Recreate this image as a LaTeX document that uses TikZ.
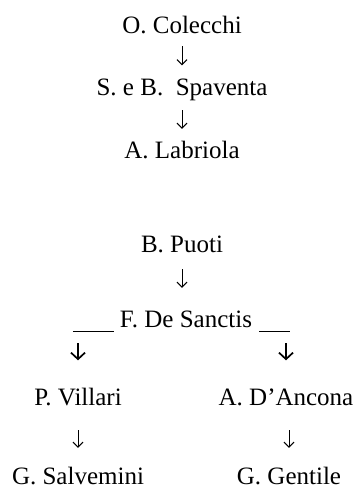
\documentclass[tikz,border=0pt]{standalone}
\usepackage{fontspec}
\setmainfont{Liberation Serif}
\usetikzlibrary{arrows.meta}
\begin{document}
\begin{tikzpicture}[x=1pt,y=-1pt,
  person/.style={anchor=base,inner sep=0pt,text height=16.5pt,text depth=0pt,font=\fontsize{25}{30}\selectfont},
  thinarr/.style={line width=1pt,-{Straight Barb[length=5pt,width=10pt,line width=1pt]}},
  thickarr/.style={line width=1.7pt,-{Straight Barb[length=6.5pt,width=14pt,line width=1.7pt]}},
  branch/.style={line width=0.9pt}]
\useasboundingbox (0,0) rectangle (358,488);
\node[person] (col) at (182,33) {O. Colecchi};
\node[person] (spa) at (182,95) {S. e B.\ \ Spaventa};
\node[person] (lab) at (182,158) {A. Labriola};
\node[person] (puo) at (182,252) {B. Puoti};
\node[person] (des) at (186,327) {F. De Sanctis};
\node[person] (vil) at (78,405) {P. Villari};
\node[person] (anc) at (286,405) {A. D’Ancona};
\node[person] (sal) at (78,484) {G. Salvemini};
\node[person] (gen) at (289,484) {G. Gentile};
% thin arrows
\draw[thinarr,shorten <=13pt,shorten >=13pt] (col.south) -- (col.south |- spa.north);
\draw[thinarr,shorten <=15pt,shorten >=12.5pt] (spa.south) -- (spa.south |- lab.north);
\draw[thinarr,shorten <=17pt,shorten >=22.5pt] (puo.south) -- (puo.south |- des.north);
\draw[thinarr,shorten <=25pt,shorten >=19.5pt] (vil.south) -- (sal.north);
\draw[thinarr,shorten <=25pt,shorten >=19.5pt] (gen.north |- anc.south) -- (gen.north);
% branch lines
\coordinate (bl1) at ([shift={(-47,4)}]des.south west);
\coordinate (bl2) at ([shift={(-6,4)}]des.south west);
\coordinate (br1) at ([shift={(7,4)}]des.south east);
\coordinate (br2) at ([shift={(38,4)}]des.south east);
\draw[branch] (bl1) -- (bl2);
\draw[branch] (br1) -- (br2);
% thick arrows
\draw[thickarr,shorten <=16pt,shorten >=28pt] (vil.north |- des.south) -- (vil.north);
\draw[thickarr,shorten <=16pt,shorten >=28pt] (anc.north |- des.south) -- (anc.north);
\end{tikzpicture}
\end{document}
